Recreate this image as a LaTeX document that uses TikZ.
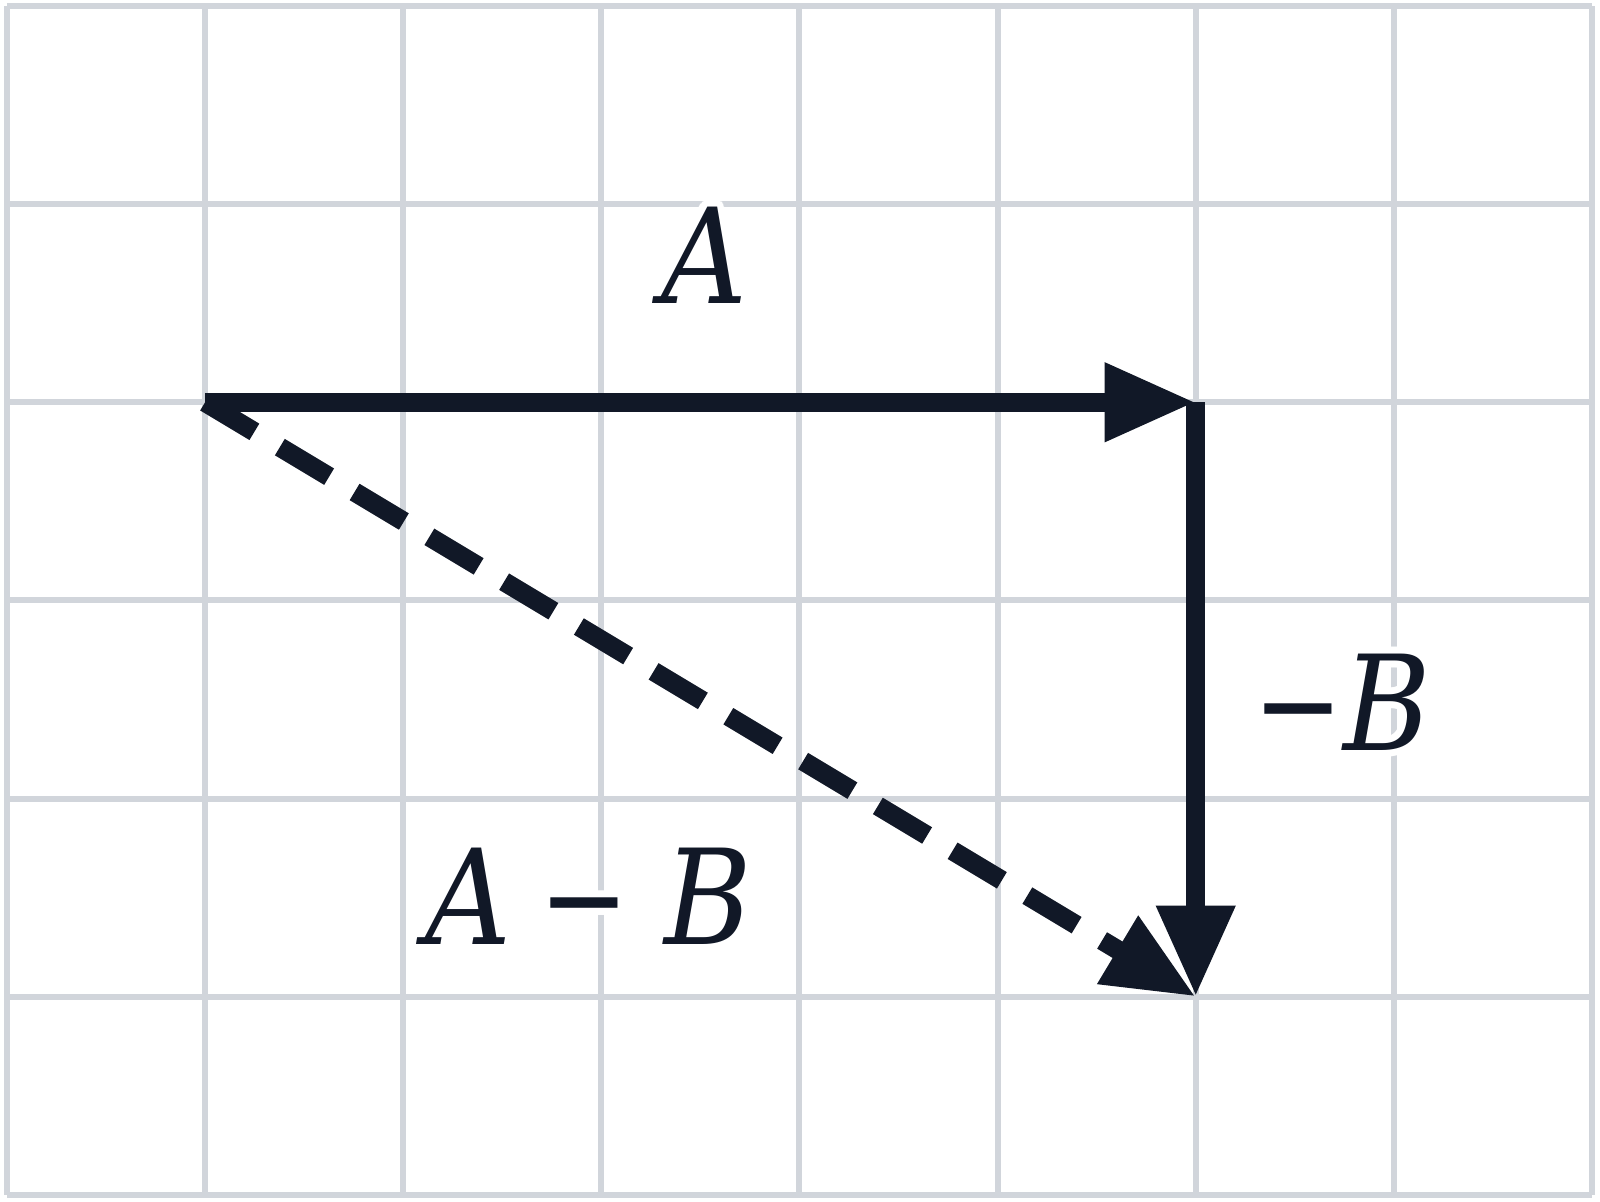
\documentclass[tikz,border=0pt]{standalone}
\usepackage{fontspec}
\setmainfont{DejaVu Serif Condensed}
\usetikzlibrary{arrows.meta,calc}
\definecolor{gridgray}{HTML}{D1D5DB}
\definecolor{ink}{HTML}{111827}
\tikzset{
  gridline/.style={draw=gridgray,line width=0.86pt},
  vec/.style={draw=ink,line width=2.75pt,-{Triangle[length=0.46cm,width=0.375cm]}},
  dashvec/.style={vec,dash pattern=on 0.29cm off 0.15cm},
  lbl/.style={inner sep=0pt,text=ink,font=\fontsize{19pt}{23pt}\selectfont\itshape}
}
\newcommand\mminus{\scalebox{0.9}[1]{−}}
\newcommand\halolabel[3]{%
  \foreach \ang in {0,22.5,...,337.5}{\node[lbl,text=white] at ($(#2)+(\ang:0.035)$) {#3};}
  \node[lbl] (#1) at (#2) {#3};
}
\begin{document}
\begin{tikzpicture}
\useasboundingbox (-0.0353,0.0303) rectangle (8.0404,-6.0353);
\fill[white] (-0.0353,0.0303) rectangle (8.0404,-6.0353);
\draw[gridline] (0,-6) grid (8,0);
\coordinate (O) at (1,-2);
\coordinate (P) at (6,-2);
\coordinate (Q) at (6,-5);
\draw[dashvec] (O) -- (Q);
\draw[vec] (O) -- (P);
\draw[vec] (P) -- (Q);
\halolabel{la}{3.52,-1.257}{A}
\halolabel{lb}{6.74,-3.514}{\mminus B}
\halolabel{lab}{2.936,-4.494}{A\hspace{0.14cm}\mminus\hspace{0.18cm}B}
\end{tikzpicture}
\end{document}
